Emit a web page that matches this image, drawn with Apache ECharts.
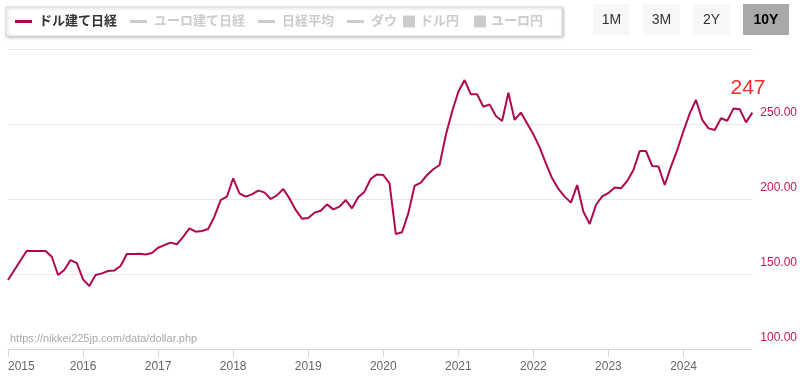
<!DOCTYPE html>
<html>
<head>
<meta charset="utf-8">
<script src="https://cdn.jsdelivr.net/npm/echarts@6/dist/echarts.min.js"></script>
<style>
html,body{margin:0;padding:0;background:#fff;}
#main{width:800px;height:378px;}
</style>
</head>
<body>
<div id="main"></div>
<script>
// ドル建て日経 月次（2015/01 - 2024/12）
var startYear = 2015;
var endYear = 2024;
var dollarNikkei = [
	146, 152.5, 159, 165.5, 165.4, 165.3, 165.3, 161.5, 149.3, 152.7, 159.3, 157.3,
	146.4, 142, 149.3, 150.4, 152, 152.4, 155.3, 163.3, 163.4, 163.5, 163, 164,
	167.5, 169.3, 170.9, 169.8, 174.8, 180.4, 178.2, 178.7, 180, 188.2, 199.3, 201.6,
	213.8, 203.8, 201.6, 203.1, 205.6, 204.4, 200, 202.4, 206.7, 200.4, 192.7, 186.9,
	187.4, 190.9, 192.2, 196.4, 193.1, 194.9, 199.3, 193.8, 201.1, 204.9, 213.5, 216.4,
	216, 210.4, 176.7, 177.8, 190.4, 208.7, 210.9, 216, 219.8, 222.7, 242.7, 258.2,
	271.5, 279.3, 269.8, 269.8, 261.5, 263.1, 255.3, 252, 270.9, 252.7, 257.6, 250.4,
	243.1, 234.4, 223.8, 213.8, 206.7, 201.6, 197.6, 209.3, 191.5, 183.3, 196, 201.8,
	204, 207.6, 207.1, 212, 219.3, 232, 232, 222, 221.6, 209.3, 221.6, 232.7,
	245.3, 257.1, 266, 252.7, 247.1, 246, 253.8, 252.2, 260.4, 259.8, 251.1, 257.6
];
var latestValue = 247;
var lineLegend = ['ドル建て日経', 'ユーロ建て日経', '日経平均', 'ダウ'];
var barLegend = ['ドル円', 'ユーロ円'];
var rangeButtons = ['1M', '3M', '2Y', '10Y'];
var activeRange = '10Y';
var sourceText = 'https://nikkei225jp.com/data/dollar.php';

var months = [];
for (var y = startYear; y <= endYear; y++) {
	for (var m = 1; m <= 12; m++) {
		months.push(y + '/' + (m < 10 ? '0' + m : m));
	}
}

var mainColor = '#b0084f';
var fontFamily = "'Liberation Sans', 'Noto Sans CJK JP', sans-serif";

function yearStart(index) {
	return index % 12 === 0;
}

// 範囲ボタン
var btnPos = {'1M': [593, 37], '3M': [643, 37], '2Y': [693, 37], '10Y': [743, 46]};
var buttons = [];
for (var i = 0; i < rangeButtons.length; i++) {
	var b = rangeButtons[i];
	var on = b == activeRange;
	buttons.push({
		type: 'rect',
		shape: {x: btnPos[b][0], y: 4, width: btnPos[b][1], height: 31},
		style: {fill: on ? '#a9a9a9' : '#f7f7f7'}
	});
	buttons.push({
		type: 'text',
		x: btnPos[b][0] + btnPos[b][1] / 2,
		y: 20,
		style: {
			text: b,
			align: 'center',
			verticalAlign: 'middle',
			fontSize: 14,
			fontWeight: on ? 'bold' : 'normal',
			fontFamily: fontFamily,
			fill: on ? '#000' : '#333'
		}
	});
}

var chart = echarts.init(document.getElementById('main'));
var option = {
	animation: false,
	backgroundColor: '#fff',
	textStyle: {fontFamily: fontFamily},
	grid: {left: 8, right: 47, top: 49, bottom: 29},
	legend: [
		{
			data: lineLegend,
			left: 15,
			top: 15,
			padding: 0,
			icon: 'rect',
			itemWidth: 17,
			itemHeight: 3,
			itemGap: 13,
			inactiveColor: '#ccc',
			selected: {'ユーロ建て日経': false, '日経平均': false, 'ダウ': false},
			textStyle: {fontSize: 13, fontWeight: 'bold', color: '#333', fontFamily: fontFamily, padding: [0, 0, 0, 2]}
		},
		{
			data: barLegend,
			left: 403,
			top: 15,
			padding: 0,
			icon: 'rect',
			itemWidth: 12,
			itemHeight: 12,
			itemGap: 15,
			inactiveColor: '#ccc',
			selected: {'ドル円': false, 'ユーロ円': false},
			textStyle: {fontSize: 13, fontWeight: 'bold', color: '#333', fontFamily: fontFamily}
		}
	],
	xAxis: {
		type: 'category',
		data: months,
		boundaryGap: false,
		axisLine: {lineStyle: {color: '#ccd6eb', width: 1}},
		axisTick: {show: true, interval: yearStart, length: 8, lineStyle: {color: '#ccd6eb'}},
		axisLabel: {
			interval: yearStart,
			formatter: function (v) { return v.slice(0, 4); },
			color: '#666',
			fontSize: 12,
			margin: 12,
			alignMinLabel: 'left'
		},
		splitLine: {show: false}
	},
	yAxis: {
		type: 'value',
		position: 'right',
		min: 100,
		max: 300,
		interval: 50,
		axisLine: {show: false},
		axisTick: {show: false},
		splitLine: {lineStyle: {color: '#e9e9e9', width: 1}},
		axisLabel: {
			color: '#bd1a5c',
			fontSize: 12,
			margin: 8,
			verticalAlign: 'bottom',
			padding: [0, 0, 5, 0],
			formatter: function (v) { return v >= 300 ? '' : v.toFixed(2); }
		}
	},
	series: [
		{
			name: 'ドル建て日経',
			type: 'line',
			data: dollarNikkei,
			symbol: 'none',
			color: mainColor,
			lineStyle: {width: 2, color: mainColor}
		},
		{name: 'ユーロ建て日経', type: 'line', data: [], symbol: 'none', color: '#888'},
		{name: '日経平均', type: 'line', data: [], symbol: 'none', color: '#888'},
		{name: 'ダウ', type: 'line', data: [], symbol: 'none', color: '#888'},
		{name: 'ドル円', type: 'bar', data: [], color: '#888'},
		{name: 'ユーロ円', type: 'bar', data: [], color: '#888'}
	],
	graphic: [
		{
			type: 'rect',
			z: 0,
			shape: {x: 6, y: 7, width: 556, height: 29},
			style: {
				fill: '#fff',
				stroke: '#dcdcdc',
				lineWidth: 1,
				shadowBlur: 3,
				shadowOffsetX: 1,
				shadowOffsetY: 1,
				shadowColor: 'rgba(0,0,0,0.25)'
			}
		},
		{
			type: 'text',
			x: 748,
			y: 88,
			style: {
				text: String(latestValue),
				align: 'center',
				verticalAlign: 'middle',
				fontSize: 21,
				fontFamily: fontFamily,
				fill: '#f22b2b'
			}
		},
		{
			type: 'text',
			x: 10,
			y: 339,
			style: {
				text: sourceText,
				verticalAlign: 'middle',
				fontSize: 11,
				fontFamily: fontFamily,
				fill: '#aaa'
			}
		}
	].concat(buttons)
};
chart.setOption(option);
</script>
</body>
</html>
